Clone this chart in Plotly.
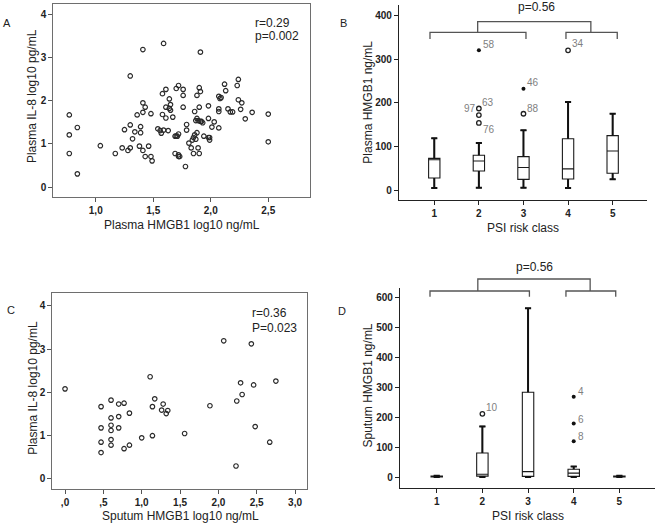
import plotly.graph_objects as go

# ---------------- Data ----------------
# Panel A: Plasma HMGB1 (log10 ng/mL) vs Plasma IL-8 (log10 pg/mL)
a_hmgb1 = [0.77, 0.77, 0.77, 0.84, 0.84, 1.04, 1.17, 1.23, 1.25, 1.28, 1.30, 1.30, 1.30, 1.32,
           1.34, 1.36, 1.38, 1.39, 1.39, 1.41, 1.41, 1.41, 1.41, 1.43, 1.43, 1.46, 1.48, 1.48,
           1.49, 1.54, 1.56, 1.57, 1.58, 1.58, 1.59, 1.59, 1.61, 1.61, 1.61, 1.63, 1.64, 1.64,
           1.65, 1.65, 1.67, 1.69, 1.69, 1.70, 1.70, 1.71, 1.72, 1.72, 1.72, 1.72, 1.73, 1.76,
           1.76, 1.76, 1.78, 1.79, 1.79, 1.81, 1.83, 1.84, 1.85, 1.85, 1.86, 1.86, 1.87, 1.88,
           1.87, 1.88, 1.88, 1.89, 1.89, 1.90, 1.90, 1.91, 1.91, 1.91, 1.90, 1.92, 1.94, 1.93,
           1.98, 1.98, 1.98, 1.99, 1.99, 2.01, 2.03, 2.07, 2.07, 2.07, 2.08, 2.09, 2.07, 2.12,
           2.13, 2.15, 2.17, 2.19, 2.23, 2.24, 2.24, 2.27, 2.26, 2.30, 2.36, 2.50, 2.50]
a_il8 = [1.67, 1.21, 0.78, 1.38, 0.31, 0.96, 0.78, 0.91, 1.33, 0.85, 2.57, 1.44, 0.91, 1.12,
         1.28, 1.67, 0.95, 1.40, 1.26, 3.18, 1.95, 1.73, 0.85, 1.85, 0.71, 0.95, 1.70, 0.71,
         0.61, 1.35, 1.31, 1.25, 2.16, 1.68, 3.32, 1.32, 2.26, 1.85, 1.60, 1.31, 1.82, 2.04,
         1.91, 1.78, 1.62, 1.18, 0.78, 2.28, 1.18, 1.18, 0.75, 2.35, 1.23, 0.71, 0.71, 2.12,
         1.85, 2.26, 0.48, 1.45, 1.32, 1.02, 0.91, 1.09, 1.15, 0.78, 1.75, 1.21, 1.11, 1.26,
         1.54, 1.59, 2.12, 0.91, 1.54, 2.30, 1.85, 3.12, 2.21, 1.52, 0.78, 1.52, 1.18, 1.49,
         1.88, 1.59, 1.15, 1.15, 1.09, 1.39, 1.51, 1.81, 1.75, 2.10, 2.05, 2.07, 1.37, 2.38,
         2.23, 1.81, 1.74, 1.74, 2.35, 2.49, 2.02, 1.95, 1.80, 1.58, 1.73, 1.69, 1.05]

# Panel C: Sputum HMGB1 (log10 ng/mL) vs Plasma IL-8 (log10 pg/mL)
c_hmgb1 = [0.00, 0.47, 0.47, 0.47, 0.47, 0.60, 0.60, 0.60, 0.60, 0.60, 0.60, 0.70, 0.70, 0.70,
           0.77, 0.77, 0.84, 0.84, 1.00, 1.11, 1.14, 1.14, 1.17, 1.26, 1.28, 1.32, 1.34, 1.56,
           1.89, 2.07, 2.24, 2.23, 2.29, 2.31, 2.43, 2.46, 2.48, 2.67, 2.75]
c_il8 = [2.08, 1.67, 1.18, 0.85, 0.61, 1.82, 1.41, 1.24, 1.12, 0.91, 0.78, 1.73, 1.44, 1.18,
         1.75, 0.70, 1.52, 0.78, 0.95, 2.36, 1.67, 1.00, 1.85, 1.59, 1.73, 1.51, 1.58, 1.05,
         1.69, 3.19, 1.80, 0.30, 2.22, 1.95, 3.12, 2.17, 1.21, 0.85, 2.26]

# Panel B: Plasma HMGB1 (ng/mL) by PSI risk class (box statistics)
psi_class = [1, 2, 3, 4, 5]
b_lower = [5, 6, 6, 5, 25]
b_q1 = [28, 44, 25, 26, 39]
b_median = [70, 67, 52, 49, 90]
b_q3 = [73, 80, 77, 118, 125]
b_upper = [119, 108, 137, 202, 175]
b_mild_class = [2, 2, 2, 3, 4]
b_mild_value = [187, 172, 154, 175, 320]
b_extreme_class = [2, 3]
b_extreme_value = [320, 232]

# Panel D: Sputum HMGB1 (ng/mL) by PSI risk class (box statistics)
d_lower = [0, 0, 0, 0, 0]
d_q1 = [0.5, 3, 2, 2, 0.5]
d_median = [1.5, 9, 18, 13, 1.5]
d_q3 = [3, 80, 283, 26, 3]
d_upper = [4, 169, 563, 35, 4]
d_mild_class = [2]
d_mild_value = [211]
d_extreme_class = [4, 4, 4]
d_extreme_value = [268, 179, 119]

# ---------------- Figure ----------------
W, H = 660, 527
FONT = "Liberation Sans, Arial, sans-serif"


def fx(px):
    return px / W


def fy(py):
    return 1 - py / H


fig = go.Figure()

scatter_marker = dict(symbol="circle-open", size=4.5, color="#2a2a2a", line=dict(width=1.2, color="#2a2a2a"))

fig.add_trace(go.Scatter(x=a_hmgb1, y=a_il8, mode="markers", marker=scatter_marker,
                         xaxis="x", yaxis="y", showlegend=False))
fig.add_trace(go.Scatter(x=c_hmgb1, y=c_il8, mode="markers", marker=scatter_marker,
                         xaxis="x3", yaxis="y3", showlegend=False))


def add_boxes(xa, ya, lower, q1, med, q3, upper, width):
    fig.add_trace(go.Box(x=psi_class, q1=q1, median=med, q3=q3, lowerfence=lower, upperfence=upper,
                         boxpoints=False, width=width, whiskerwidth=0.5, fillcolor="white",
                         line=dict(color="#1a1a1a", width=1.1), xaxis=xa, yaxis=ya,
                         showlegend=False, hoverinfo="skip"))
    # bold whiskers with caps
    wx, wy = [], []
    cap = width * 0.27
    for c, lo, a, b, up in zip(psi_class, lower, q1, q3, upper):
        wx += [c, c, None, c - cap, c + cap, None, c, c, None, c - cap, c + cap, None]
        wy += [b, up, None, up, up, None, a, lo, None, lo, lo, None]
    fig.add_trace(go.Scatter(x=wx, y=wy, mode="lines", line=dict(color="#111", width=2),
                             xaxis=xa, yaxis=ya, showlegend=False, hoverinfo="skip"))


add_boxes("x2", "y2", b_lower, b_q1, b_median, b_q3, b_upper, 0.254)
add_boxes("x4", "y4", d_lower, d_q1, d_median, d_q3, d_upper, 0.25)

# outliers
for xa, ya, cx, cy in [("x2", "y2", b_mild_class, b_mild_value), ("x4", "y4", d_mild_class, d_mild_value)]:
    fig.add_trace(go.Scatter(x=cx, y=cy, mode="markers", xaxis=xa, yaxis=ya, showlegend=False,
                             marker=dict(symbol="circle-open", size=4.5, color="#222", line=dict(width=1.3))))
for xa, ya, cx, cy in [("x2", "y2", b_extreme_class, b_extreme_value), ("x4", "y4", d_extreme_class, d_extreme_value)]:
    fig.add_trace(go.Scatter(x=cx, y=cy, mode="markers", xaxis=xa, yaxis=ya, showlegend=False,
                             marker=dict(symbol="circle", size=4, color="#111")))

tickfont = dict(family=FONT, size=10, color="#222", weight="bold")
box_axis = dict(showline=True, linecolor="#6e6e6e", linewidth=1, mirror=True, ticks="outside",
                ticklen=4, tickcolor="#555", showgrid=False, zeroline=False, tickfont=tickfont)
open_axis = dict(showline=True, linecolor="#222", linewidth=1.2, mirror=False, ticks="outside",
                 ticklen=4, tickcolor="#222", showgrid=False, zeroline=False, tickfont=tickfont)

fig.update_layout(
    width=W, height=H, margin=dict(l=0, r=0, t=0, b=0),
    paper_bgcolor="white", plot_bgcolor="white", showlegend=False,
    font=dict(family=FONT, color="#222"),
    xaxis=dict(domain=[fx(53.3), fx(310)], range=[0.631, 2.863], anchor="y",
               tickvals=[1.0, 1.5, 2.0, 2.5], ticktext=["1,0", "1,5", "2,0", "2,5"], **box_axis),
    yaxis=dict(domain=[fy(196.7), fy(4)], range=[-0.217, 4.231], anchor="x",
               tickvals=[0, 1, 2, 3, 4], **box_axis),
    xaxis3=dict(domain=[fx(52.3), fx(307.3)], range=[-0.166, 3.16], anchor="y3",
                tickvals=[0, 0.5, 1.0, 1.5, 2.0, 2.5, 3.0],
                ticktext=[",0", ",5", "1,0", "1,5", "2,0", "2,5", "3,0"], **box_axis),
    yaxis3=dict(domain=[fy(489.3), fy(293.3)], range=[-0.238, 4.286], anchor="x3",
                tickvals=[0, 1, 2, 3, 4], **box_axis),
    xaxis2=dict(domain=[fx(399), fx(647)], range=[0.209, 5.77], anchor="y2",
                tickvals=psi_class, **open_axis),
    yaxis2=dict(domain=[fy(199.5), fy(5)], range=[-21, 423.5], anchor="x2",
                tickvals=[0, 100, 200, 300, 400], **open_axis),
    xaxis4=dict(domain=[fx(400), fx(655)], range=[0.196, 5.78], anchor="y4",
                tickvals=psi_class, **open_axis),
    yaxis4=dict(domain=[fy(487.7), fy(288)], range=[-35.7, 631], anchor="x4",
                tickvals=[0, 100, 200, 300, 400, 500, 600], **open_axis),
)

# brackets (comparison lines)
shapes = []


def bracket(xa, x0, x1, y_h, y_end):
    return dict(type="path", xref=xa, yref="paper",
                path=f"M {x0},{fy(y_end)} L {x0},{fy(y_h)} L {x1},{fy(y_h)} L {x1},{fy(y_end)}",
                line=dict(color="#555", width=1.3))


shapes += [bracket("x2", 0.904, 3.056, 32.3, 39), bracket("x2", 3.953, 5.103, 32.3, 39),
           bracket("x2", 1.973, 4.511, 21.7, 32.3)]
shapes += [bracket("x4", 0.853, 3.03, 291, 296.7), bracket("x4", 3.83, 4.92, 291, 296.7),
           bracket("x4", 1.90, 4.36, 279, 291)]
fig.update_layout(shapes=shapes)

ann = []


def txt(x, y, text, size=12, xanchor="center", yanchor="middle", color="#222", angle=0):
    ann.append(dict(x=fx(x), y=fy(y), xref="paper", yref="paper", text=text, showarrow=False,
                    xanchor=xanchor, yanchor=yanchor, textangle=angle,
                    font=dict(family=FONT, size=size, color=color)))


# axis titles
txt(181.7, 225, "Plasma HMGB1 log10 ng/mL", 12)
txt(32.3, 95.8, "Plasma IL-8 log10 pg/mL", 12, angle=-90)
txt(522.5, 228.3, "PSI risk class", 12)
txt(367.7, 102, "Plasma HMGB1 ng/mL", 12, angle=-90)
txt(180.5, 516, "Sputum HMGB1 log10 ng/mL", 12)
txt(32.3, 387.5, "Plasma IL-8 log10 pg/mL", 12, angle=-90)
txt(528.3, 515.5, "PSI risk class", 12)
txt(367.7, 385.8, "Sputum HMGB1 ng/mL", 12, angle=-90)

# panel letters
txt(7, 23, "A", 11)
txt(343.3, 22.7, "B", 11)
txt(11, 310, "C", 11)
txt(341.7, 310.7, "D", 11)

# correlation statistics
txt(253.3, 22.7, "r=0.29", 12, xanchor="left")
txt(253.3, 36, "p=0.002", 12, xanchor="left")
txt(250, 313.3, "r=0.36", 12, xanchor="left")
txt(250, 328.3, "P=0.023", 12, xanchor="left")

# p-values over brackets
txt(536.7, 7, "p=0.56", 12)
txt(534, 266.5, "p=0.56", 12)

fig.update_layout(annotations=ann)

# outlier case labels
case_labels = [
    ("x2", "y2", 2, 320, "58", "left", 2, 6),
    ("x2", "y2", 4, 320, "34", "left", 2, 7),
    ("x2", "y2", 2, 187, "97", "right", -1, 0),
    ("x2", "y2", 2, 187, "63", "left", 1, 6),
    ("x2", "y2", 2, 154, "76", "left", 2, -7),
    ("x2", "y2", 3, 232, "46", "left", 2, 6),
    ("x2", "y2", 3, 175, "88", "left", 2, 5),
    ("x4", "y4", 2, 211, "10", "left", 2, 6),
    ("x4", "y4", 4, 268, "4", "left", 2, 5),
    ("x4", "y4", 4, 179, "6", "left", 2, 4),
    ("x4", "y4", 4, 119, "8", "left", 2, 5),
]
for xa, ya, cx, cy, t, xan, xs, ys in case_labels:
    fig.add_annotation(x=cx, y=cy, xref=xa, yref=ya, text=t, showarrow=False, xanchor=xan,
                       yanchor="middle", xshift=xs, yshift=ys,
                       font=dict(family=FONT, size=10, color="#808080"))

fig.write_html("out.html", config={"displayModeBar": False},
               post_script="document.body.style.margin='0';document.body.style.padding='0';")
